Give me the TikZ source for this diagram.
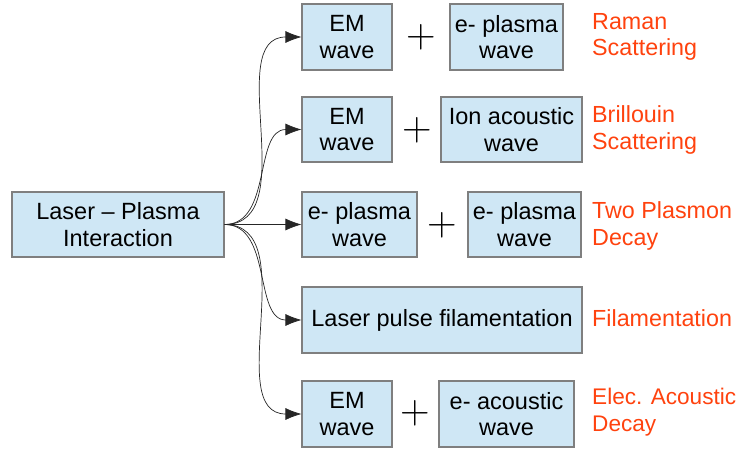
\documentclass[tikz,border=0pt]{standalone}
\usepackage{fontspec}
\setmainfont{Liberation Sans}
\newfontfamily\plusfont{Latin Modern Roman}
\usepackage{xcolor}
\usetikzlibrary{arrows.meta}

\definecolor{boxfill}{HTML}{CFE7F5}
\definecolor{boxline}{HTML}{7F7F7F}
\definecolor{effect}{HTML}{FF420E}

\tikzset{
	wavebox/.style = {draw = boxline, fill = boxfill, line width = 1.1pt, inner sep = 0pt, align = center, font = \fontsize{23.5}{26.5}\selectfont},
	effectlabel/.style = {anchor = west, inner sep = 0pt, align = left, text = effect, font = \fontsize{23.3}{26.5}\selectfont},
	plussign/.style = {inner sep = 0pt, font = \plusfont\fontsize{41}{41}\selectfont},
	feed/.style = {-{Latex[length = 16pt, width = 12pt]}, line width = 0.7pt, draw = black!85, out = 0, in = 180}
}

\begin{document}
\begin{tikzpicture}[x = 1pt, y = -1pt]
			\useasboundingbox (0,0) rectangle (739,450);
			\node[wavebox, minimum width = 212pt, minimum height = 65pt] (lpi) at (118,224.5) {Laser -- Plasma\\Interaction};

			\node[wavebox, minimum width = 90pt, minimum height = 66pt] (ram1) at (347,37) {EM\\wave};
			\node[plussign] (ramplus) at (421,37) {+};
			\node[wavebox, minimum width = 113pt, minimum height = 66pt] (ram2) at (506.5,37) {e- plasma\\wave};
			\node[effectlabel] (ramtxt) at (592,37) {Raman\\Scattering};

			\node[wavebox, minimum width = 90pt, minimum height = 65pt] (bri1) at (347,129.5) {EM\\wave};
			\node[plussign] (briplus) at (417,130) {+};
			\node[wavebox, minimum width = 141pt, minimum height = 65pt] (bri2) at (511.5,129.5) {Ion acoustic\\wave};
			\node[effectlabel] (britxt) at (592,130) {Brillouin\\Scattering};

			\node[wavebox, minimum width = 115pt, minimum height = 65pt] (tpd1) at (359.5,224.5) {e- plasma\\wave};
			\node[plussign] (tpdplus) at (442,225) {+};
			\node[wavebox, minimum width = 113pt, minimum height = 65pt] (tpd2) at (524.5,224.5) {e- plasma\\wave};
			\node[effectlabel] (tpdtxt) at (592,226) {Two Plasmon\\Decay};

			\node[wavebox, minimum width = 280pt, minimum height = 66pt] (fil) at (442,320) {Laser pulse filamentation};
			\node[effectlabel] (filtxt) at (592,318) {Filamentation};

			\node[wavebox, minimum width = 90pt, minimum height = 66pt] (ead1) at (347,414) {EM\\wave};
			\node[plussign] (eadplus) at (415,413) {+};
			\node[wavebox, minimum width = 135pt, minimum height = 66pt] (ead2) at (506.5,414) {e- acoustic\\wave};
			\node[effectlabel, font = \fontsize{22.6}{26.5}\selectfont] (eadtxt) at (592,412) {Elec. Acoustic\\Decay};

			\draw[feed] (lpi.east) to (ram1.west);
			\draw[feed] (lpi.east) to (bri1.west);
			\draw[feed] (lpi.east) to (tpd1.west);
			\draw[feed] (lpi.east) to (fil.west);
			\draw[feed] (lpi.east) to (ead1.west);
		\end{tikzpicture}
\end{document}
